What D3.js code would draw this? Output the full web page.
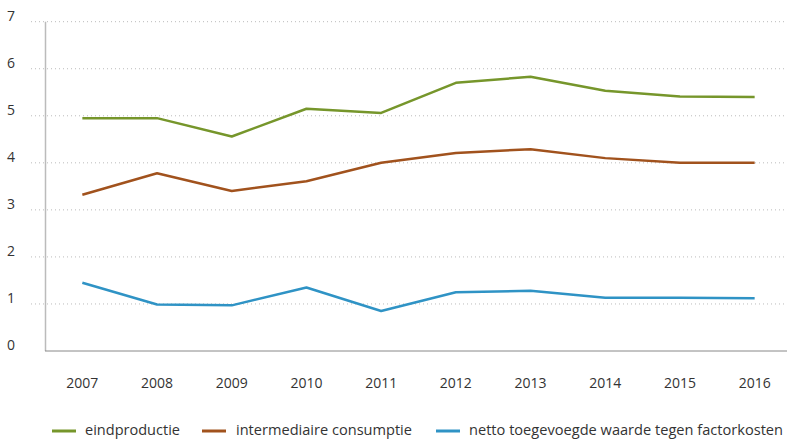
<!DOCTYPE html>
<html>
<head>
<meta charset="utf-8">
<script src="https://cdn.jsdelivr.net/npm/d3@7"></script>
<style>
  body { margin: 0; background: #fff; }
  text { font-family: "Open Sans", sans-serif; fill: #333; }
</style>
</head>
<body>
<script>
var years = ["2007", "2008", "2009", "2010", "2011", "2012", "2013", "2014", "2015", "2016"];
var eindproductie = [4.95, 4.95, 4.56, 5.15, 5.06, 5.70, 5.83, 5.53, 5.41, 5.40];
var intermediaire = [3.32, 3.78, 3.40, 3.61, 4.00, 4.21, 4.29, 4.10, 4.00, 4.00];
var netto = [1.45, 0.99, 0.97, 1.35, 0.85, 1.25, 1.28, 1.13, 1.13, 1.12];
var yTicks = [0, 1, 2, 3, 4, 5, 6, 7];

var series = [
    {name: "eindproductie", values: eindproductie, color: "#76962b", lx: 52, tx: 85, tw: 95},
    {name: "intermediaire consumptie", values: intermediaire, color: "#a1521d", lx: 202, tx: 236, tw: 176},
    {name: "netto toegevoegde waarde tegen factorkosten", values: netto, color: "#2f93c5", lx: 436, tx: 469, tw: 314}
];

var width = 787, height = 439;

var svg = d3.select("body")
    .append("svg")
    .attr("width", width)
    .attr("height", height);

var xScale = d3.scaleBand().domain(years).range([45, 792]),
    yScale = d3.scaleLinear().domain([0, 7]).range([351, 21.7]);

// gridlines
svg.append("g")
    .selectAll("line")
    .data(yTicks.filter(function(d) { return d > 0; }))
    .enter().append("line")
    .attr("x1", 31)
    .attr("x2", 787)
    .attr("y1", function(d) { return yScale(d); })
    .attr("y2", function(d) { return yScale(d); })
    .attr("stroke", "#bbb")
    .attr("stroke-width", 1)
    .attr("stroke-dasharray", "1,3");

// y labels
svg.append("g")
    .selectAll("text")
    .data(yTicks)
    .enter().append("text")
    .attr("x", 7)
    .attr("y", function(d) { return yScale(d) - 1; })
    .style("font-size", "14px")
    .text(function(d) { return d; });

// y axis line
svg.append("line")
    .attr("x1", 45.5).attr("x2", 45.5)
    .attr("y1", yScale(7)).attr("y2", yScale(0))
    .attr("stroke", "#bbb")
    .attr("stroke-width", 1.5);

// x axis line
svg.append("line")
    .attr("x1", 45).attr("x2", 787)
    .attr("y1", yScale(0)).attr("y2", yScale(0))
    .attr("stroke", "#888")
    .attr("stroke-width", 1);

// x labels
svg.append("g")
    .selectAll("text")
    .data(years)
    .enter().append("text")
    .attr("x", function(d) { return xScale(d) + xScale.bandwidth() / 2; })
    .attr("y", 388)
    .attr("text-anchor", "middle")
    .style("font-size", "14px")
    .text(function(d) { return d; });

var line = d3.line()
    .x(function(d, i) { return xScale(years[i]) + xScale.bandwidth() / 2; })
    .y(function(d) { return yScale(d); });

// lines
svg.append("g")
    .selectAll("path")
    .data(series)
    .enter().append("path")
    .attr("d", function(d) { return line(d.values); })
    .attr("fill", "none")
    .attr("stroke", function(d) { return d.color; })
    .attr("stroke-width", 2.5)
    .attr("stroke-linejoin", "round");

// legend
var legend = svg.append("g")
    .selectAll("g")
    .data(series)
    .enter().append("g");

legend.append("line")
    .attr("x1", function(d) { return d.lx; })
    .attr("x2", function(d) { return d.lx + 24; })
    .attr("y1", 431)
    .attr("y2", 431)
    .attr("stroke", function(d) { return d.color; })
    .attr("stroke-width", 3);

legend.append("text")
    .attr("x", function(d) { return d.tx; })
    .attr("y", 435)
    .style("font-size", "14px")
    .attr("textLength", function(d) { return d.tw; })
    .attr("lengthAdjust", "spacingAndGlyphs")
    .text(function(d) { return d.name; });
</script>
</body>
</html>
